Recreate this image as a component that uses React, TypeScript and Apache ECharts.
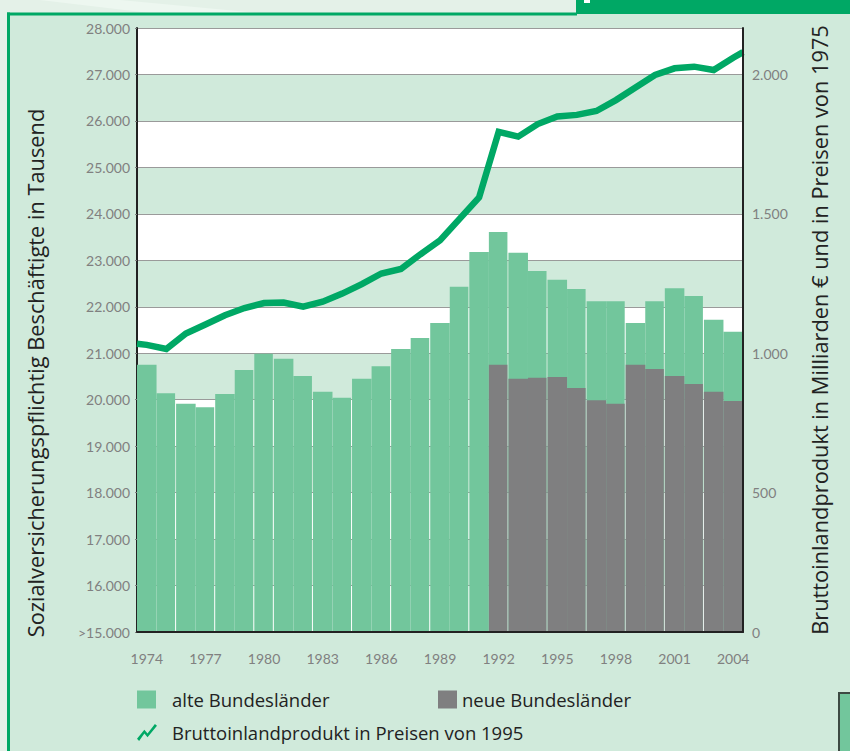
import React, { useEffect, useRef } from "react";
import * as echarts from "echarts";

const years = [
  "1974", "1975", "1976", "1977", "1978", "1979", "1980", "1981", "1982", "1983",
  "1984", "1985", "1986", "1987", "1988", "1989", "1990", "1991", "1992", "1993",
  "1994", "1995", "1996", "1997", "1998", "1999", "2000", "2001", "2002", "2003", "2004",
];

// Sozialversicherungspflichtig Beschäftigte (Tausend), alte Bundesländer
const alteBL = [
  20750, 20140, 19910, 19840, 20120, 20640, 20990, 20880, 20510, 20170,
  20040, 20450, 20720, 21090, 21330, 21650, 22430, 23180, 23610, 23160,
  22770, 22580, 22380, 22120, 22120, 21650, 22120, 22400, 22230, 21720, 21460,
];

// neue Bundesländer (as read on the left axis), from 1992
const neueYears = ["1992", "1993", "1994", "1995", "1996", "1997", "1998", "1999", "2000", "2001", "2002", "2003", "2004"];
const neueBL = [20750, 20450, 20470, 20490, 20250, 19990, 19910, 20750, 20660, 20510, 20340, 20170, 19970];

// Bruttoinlandprodukt (Mrd. €)
const bip = [
  1030, 1015, 1071, 1103, 1136, 1162, 1180, 1182, 1167, 1185,
  1214, 1248, 1286, 1302, 1355, 1405, 1482, 1559, 1794, 1777,
  1822, 1849, 1855, 1869, 1908, 1953, 1998, 2022, 2028, 2016, 2060,
];
const bipLeftEdge = 1034;
const bipRightEdge = 2080;

const leftTicks = { min: 15000, max: 28000, interval: 1000 };
const rightTicks = { min: 0, interval: 500 };

const leftTitle = "Sozialversicherungspflichtig Beschäftigte in Tausend";
const rightTitle = "Bruttoinlandprodukt in Milliarden € und in Preisen von 1975";

const C_BG = "#d0eadb";
const C_ALT = "#72c69c";
const C_NEU = "#7f7f80";
const C_LINE = "#00a865";
const C_TICK = "#808080";
const FONT = "Lato";
const FONT2 = "Open Sans";
const TITLE_SIZE = 21.8;

// thin background gaps after these category indices
const gapAfter = new Set([1, 3, 5, 6, 8, 10, 12, 14, 16, 18, 20, 22, 24, 26, 28]);

function fmt(v: number): string {
  const r = Math.round(v);
  if (r >= 1000) {
    const t = Math.floor(r / 1000);
    const rest = String(r % 1000).padStart(3, "0");
    return t + "." + rest;
  }
  return String(r);
}

function barRenderer(color: string) {
  return (params: any, api: any) => {
    const idx = api.value(0);
    const val = api.value(1);
    const top = api.coord([idx, val]);
    const base = api.coord([idx, leftTicks.min]);
    const w = api.size([1, 0])[0];
    const g = gapAfter.has(idx) ? 1 : 0;
    return {
      type: "rect",
      shape: { x: top[0] - w / 2, y: top[1], width: w - g, height: base[1] - top[1] },
      style: { fill: color },
    };
  };
}

export default function App() {
  const ref = useRef<HTMLDivElement>(null);
  useEffect(() => {
    if (!ref.current) return;
    const chart = echarts.init(ref.current, undefined, { renderer: "svg" });
    const rightMax = (leftTicks.max - leftTicks.min) / 6;
    const lineData: any[] = [[-0.5, bipLeftEdge]];
    bip.forEach((v, i) => lineData.push([i, v]));
    lineData.push([years.length - 0.5, bipRightEdge]);

    const legendText = { fontSize: 18.5, color: "#222", fontFamily: FONT2 };

    chart.setOption({
      animation: false,
      backgroundColor: C_BG,
      textStyle: { fontFamily: FONT },
      grid: { left: 137, right: 107, top: 28, bottom: 119 },
      xAxis: [
        {
          type: "category",
          data: years,
          boundaryGap: true,
          axisLine: { show: true, onZero: false, lineStyle: { color: "#222", width: 2 } },
          axisTick: { show: false },
          axisLabel: { interval: 2, color: C_TICK, fontSize: 14, margin: 19, fontFamily: FONT },
          splitLine: { show: false },
          z: 5,
        },
        {
          type: "value",
          min: -0.5,
          max: years.length - 0.5,
          show: false,
        },
      ],
      yAxis: [
        {
          type: "value",
          min: leftTicks.min,
          max: leftTicks.max,
          interval: leftTicks.interval,
          position: "left",
          axisLine: { show: true, onZero: false, lineStyle: { color: "#222", width: 2 } },
          axisTick: { show: true, length: 2, lineStyle: { color: C_TICK } },
          axisLabel: {
            color: C_TICK,
            fontSize: 14,
            margin: 7,
            fontFamily: FONT,
            formatter: (v: number) => (v === leftTicks.min ? ">" + fmt(v) : fmt(v)),
          },
          splitLine: { show: true, lineStyle: { color: "#9a9a9a", width: 1 } },
          splitArea: { show: true, areaStyle: { color: ["#ffffff", C_BG] } },
          z: 1,
        },
        {
          type: "value",
          min: rightTicks.min,
          max: rightMax,
          interval: rightTicks.interval,
          position: "right",
          name: rightTitle,
          nameLocation: "middle",
          nameRotate: 90,
          nameGap: 65,
          nameTextStyle: { fontSize: TITLE_SIZE, color: "#222", fontFamily: FONT2 },
          axisLine: { show: true, onZero: false, lineStyle: { color: "#222", width: 2 } },
          axisTick: { show: false },
          axisLabel: {
            color: C_TICK,
            fontSize: 14,
            margin: 9,
            fontFamily: FONT,
            formatter: (v: number) => (Math.abs(v % rightTicks.interval) < 1e-6 ? fmt(v) : ""),
          },
          splitLine: { show: false },
          z: 6,
        },
      ],
      legend: [
        {
          left: 137,
          top: 690,
          padding: 0,
          itemWidth: 19,
          itemHeight: 18,
          data: [{ name: "alte Bundesländer", icon: "rect" }],
          textStyle: { ...legendText, padding: [0, 0, 0, 11] },
        },
        {
          left: 438,
          top: 690,
          padding: 0,
          itemWidth: 19,
          itemHeight: 18,
          data: [{ name: "neue Bundesländer", icon: "rect" }],
          textStyle: legendText,
        },
        {
          left: 137,
          top: 723,
          padding: 0,
          itemWidth: 20,
          itemHeight: 18,
          data: [
            {
              name: "Bruttoinlandprodukt in Preisen von 1995",
              icon: "path://M0,16 L7,7.5 L10,11 L17,2 L19,3.5 L10,14.5 L7,11 L2,18 Z",
            },
          ],
          textStyle: { ...legendText, padding: [0, 0, 0, 10] },
        },
      ],
      graphic: [
        { type: "rect", shape: { x: 0, y: 0, width: 850, height: 13 }, style: { fill: "#e4f1e8" }, silent: true },
        { type: "polygon", shape: { points: [[40, 0], [120, 0], [260, 13], [150, 13]] }, style: { fill: "#edf7f0" }, silent: true },
        { type: "rect", shape: { x: 0, y: 0, width: 7, height: 751 }, style: { fill: "#e4f1e8" }, silent: true },
        { type: "rect", shape: { x: 7, y: 12.5, width: 570, height: 3 }, style: { fill: C_LINE }, silent: true },
        { type: "rect", shape: { x: 7, y: 12.5, width: 3, height: 739 }, style: { fill: C_LINE }, silent: true },
        { type: "rect", shape: { x: 576, y: 0, width: 274, height: 14 }, style: { fill: C_LINE }, silent: true },
        { type: "rect", shape: { x: 584, y: 0, width: 6, height: 3 }, style: { fill: "#ffffff" }, silent: true },
        {
          type: "rect",
          shape: { x: 839, y: 693, width: 14, height: 62 },
          style: { fill: C_ALT, stroke: "#3d4a43", lineWidth: 2 },
          silent: true,
        },
        {
          type: "text",
          x: 35,
          y: 373,
          rotation: Math.PI / 2,
          style: {
            text: leftTitle,
            fill: "#222",
            font: TITLE_SIZE + "px 'Open Sans'",
            align: "center",
            verticalAlign: "middle",
          },
          silent: true,
        },
      ],
      series: [
        {
          name: "alte Bundesländer",
          type: "custom",
          xAxisIndex: 0,
          yAxisIndex: 0,
          itemStyle: { color: C_ALT },
          color: C_ALT,
          renderItem: barRenderer(C_ALT),
          data: alteBL.map((v, i) => [i, v]),
          clip: true,
          z: 2,
        },
        {
          name: "neue Bundesländer",
          type: "custom",
          xAxisIndex: 0,
          yAxisIndex: 0,
          itemStyle: { color: C_NEU },
          color: C_NEU,
          renderItem: barRenderer(C_NEU),
          data: neueBL.map((v, i) => [years.indexOf(neueYears[i]), v]),
          clip: true,
          z: 3,
        },
        {
          name: "Bruttoinlandprodukt in Preisen von 1995",
          type: "line",
          xAxisIndex: 1,
          yAxisIndex: 1,
          data: lineData,
          color: C_LINE,
          showSymbol: false,
          symbol: "none",
          lineStyle: { color: C_LINE, width: 6.5, join: "miter" },
          clip: true,
          z: 4,
        },
      ],
    });
    return () => chart.dispose();
  }, []);
  return (
    <div
      ref={ref}
      style={{ position: "absolute", left: 0, top: 0, width: 850, height: 751 }}
    />
  );
}
